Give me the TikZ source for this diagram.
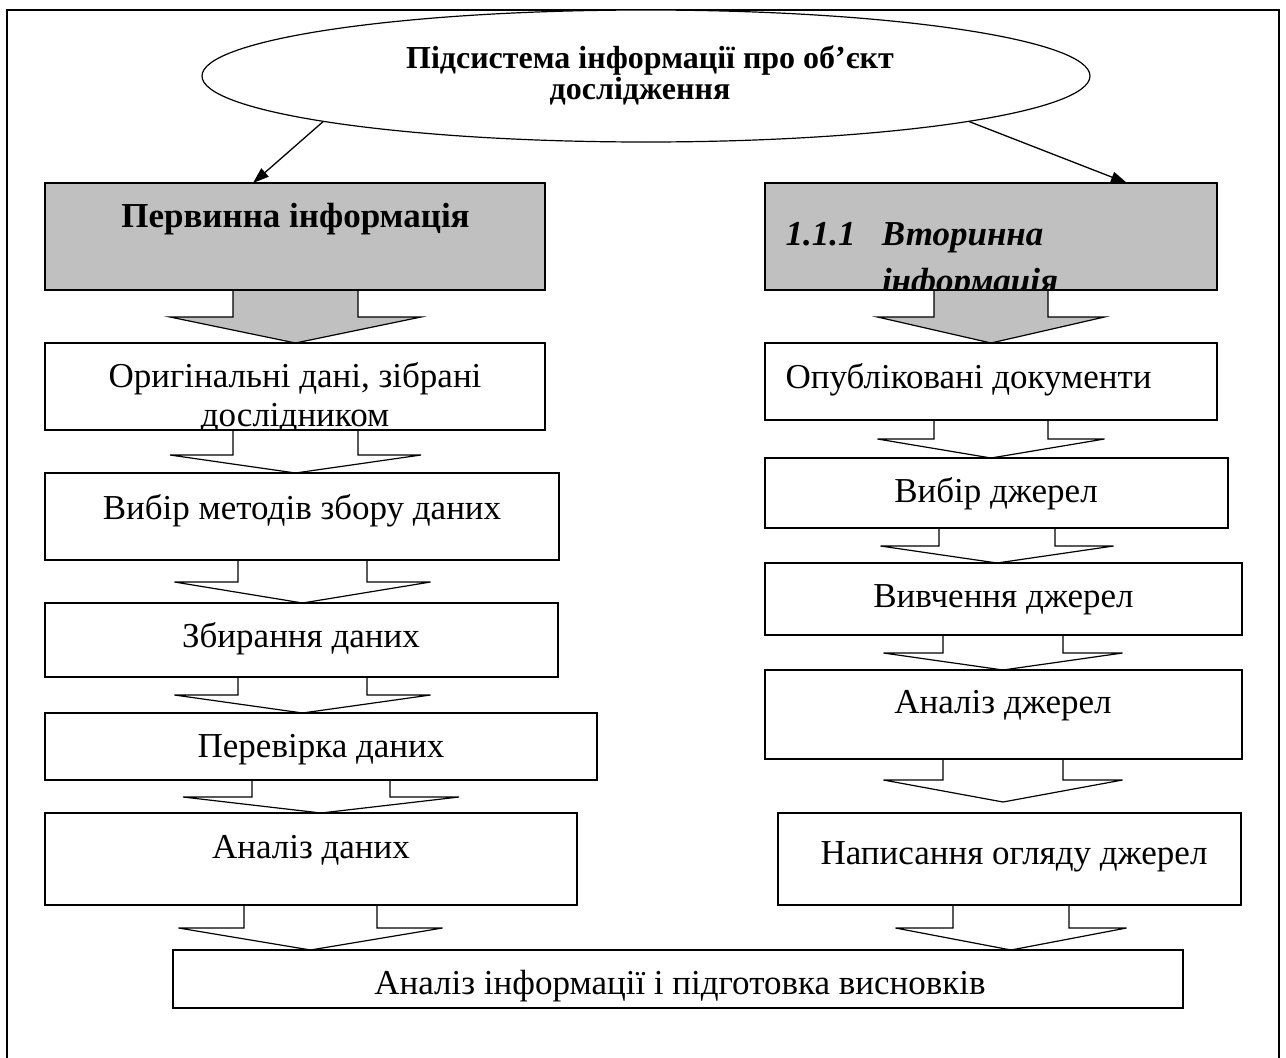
\documentclass[tikz,border=0pt]{standalone}
\usepackage{fontspec}
\setmainfont{Liberation Serif}
\usetikzlibrary{shapes.geometric,arrows.meta,calc,backgrounds}
\definecolor{boxgray}{RGB}{192,192,192}
% block arrow: [fill] {from anchor}{to point}{centre x}{stem half width}{head half width}{head line y}
\newcommand\blockarrow[7][white]{\blockarrX{#1}{#2}{#3}{#4}{#5}{#6}{#7}}
\newcommand\blockarrX[7]{%
  \draw[barrow,fill=#1] let \p1=(#2), \p2=(#3) in
    ({(#4-#5)*1pt},\y1) -- ({(#4-#5)*1pt},{-#7*1pt}) -- ({(#4-#6)*1pt},{-#7*1pt}) -- ({#4*1pt},\y2)
    -- ({(#4+#6)*1pt},{-#7*1pt}) -- ({(#4+#5)*1pt},{-#7*1pt}) -- ({(#4+#5)*1pt},\y1);}
\begin{document}
\begin{tikzpicture}[x=1pt,y=1pt,
  box/.style={draw, line width=1.2pt, inner sep=0, outer sep=0, anchor=north west, fill=white},
  graybox/.style={box, fill=boxgray},
  barrow/.style={draw, line width=1.2pt, line join=miter},
  txt/.style={inner sep=0, outer sep=0, anchor=base, font=\fontsize{35}{39}\selectfont},
  conn/.style={draw, line width=1.3pt, -{Triangle[length=16pt,width=11pt]}}]
\useasboundingbox (0,0) rectangle (1286,-1058);
% outer frame
\draw[line width=2pt] (7,-1058) -- (7,-10) -- (1279,-10) -- (1279,-1058);

% top ellipse
\node[ellipse, draw, line width=1.2pt, minimum width=888pt, minimum height=132pt, inner sep=0, outer sep=0, fill=white] (top) at (646,-76) {};
\node[inner sep=0, align=center, anchor=base, font=\fontsize{32}{31}\selectfont\bfseries] (toptxt) at (640,-99)
  {\hspace*{20pt}Підсистема інформації про об’єкт\\дослідження};

% left column boxes
\node[graybox, minimum width=500pt, minimum height=107pt] (g1) at (45,-183) {};
\node[box, minimum width=500pt, minimum height=87pt] (b1) at (45,-343) {};
\node[box, minimum width=514pt, minimum height=87pt] (b2) at (45,-473) {};
\node[box, minimum width=513pt, minimum height=74pt] (b3) at (45,-603) {};
\node[box, minimum width=552pt, minimum height=67pt] (b4) at (45,-713) {};
\node[box, minimum width=532pt, minimum height=92pt] (b5) at (45,-813) {};
% right column boxes
\node[graybox, minimum width=452pt, minimum height=107pt] (g2) at (765,-183) {};
\node[box, minimum width=452pt, minimum height=77pt] (r1) at (765,-343) {};
\node[box, minimum width=463pt, minimum height=70pt] (r2) at (765,-458) {};
\node[box, minimum width=477pt, minimum height=72pt] (r3) at (765,-563) {};
\node[box, minimum width=477pt, minimum height=89pt] (r4) at (765,-670) {};
\node[box, minimum width=463pt, minimum height=92pt] (r5) at (778,-813) {};
% final box
\node[box, minimum width=1010pt, minimum height=58pt] (fin) at (173,-950) {};
\coordinate (r4tip) at (1003,-802);

% block arrows (behind the boxes)
\begin{pgfonlayer}{background}
\blockarrow[boxgray]{g1.south}{b1.north}{295.5}{62.5}{125.5}{317}
\blockarrow{b1.south}{b2.north}{295.5}{62.5}{125.5}{455}
\blockarrow{b2.south}{b3.north}{302.5}{64.5}{128}{582}
\blockarrow{b3.south}{b4.north}{302.5}{64.5}{128}{695}
\blockarrow{b4.south}{b5.north}{321}{69}{138}{797}
\blockarrow{b5.south}{fin.north}{310.5}{66.5}{132}{928}
\blockarrow[boxgray]{g2.south}{r1.north}{991}{57}{113.5}{317}
\blockarrow{r1.south}{r2.north}{991}{57}{113.5}{439}
\blockarrow{r2.south}{r3.north}{997}{58}{116.5}{546}
\blockarrow{r3.south}{r4.north}{1003}{60}{119.5}{653}
\blockarrow{r4.south}{r4tip}{1003}{60}{119.5}{780}
\blockarrow{r5.south}{fin.north}{1011}{58}{115.5}{928}
\end{pgfonlayer}

% connectors from the ellipse
\draw[conn] (top.188.3) -- ([xshift=-42pt]g1.north);
\draw[conn] (top.352.6) -- ([xshift=136pt]g2.north);

% texts
\node[txt, font=\fontsize{35}{39}\selectfont\bfseries] (tg1) at (295.5,-227) {Первинна інформація};
\begin{scope}
\clip (45,-343) rectangle (545,-430);
\node[txt, align=center] (tb1) at (295,-426) {Оригінальні дані, зібрані\\дослідником};
\end{scope}
\node[txt] (tb2) at (302,-519) {Вибір методів збору даних};
\node[txt] (tb3) at (301,-647) {Збирання даних};
\node[txt] (tb4) at (321,-757) {Перевірка даних};
\node[txt] (tb5) at (311,-858) {Аналіз даних};
\begin{scope}
\clip (765,-183) rectangle (1217,-290);
\node[txt, anchor=base west, align=left, font=\fontsize{35}{47}\selectfont\bfseries\itshape] (tg2) at (785.6,-292)
  {\makebox[96.4pt][l]{1.1.1}Вторинна\\\hspace*{96.4pt}інформація};
\end{scope}
\node[txt, anchor=base west] (tr1) at (785.6,-388) {Опубліковані документи};
\node[txt] (tr2) at (996,-502) {Вибір джерел};
\node[txt] (tr3) at (1003.5,-607) {Вивчення джерел};
\node[txt] (tr4) at (1003,-713) {Аналіз джерел};
\node[txt] (tr5) at (1014,-864) {Написання огляду джерел};
\node[txt] (tfin) at (680,-994) {Аналіз інформації і підготовка висновків};
\end{tikzpicture}
\end{document}
